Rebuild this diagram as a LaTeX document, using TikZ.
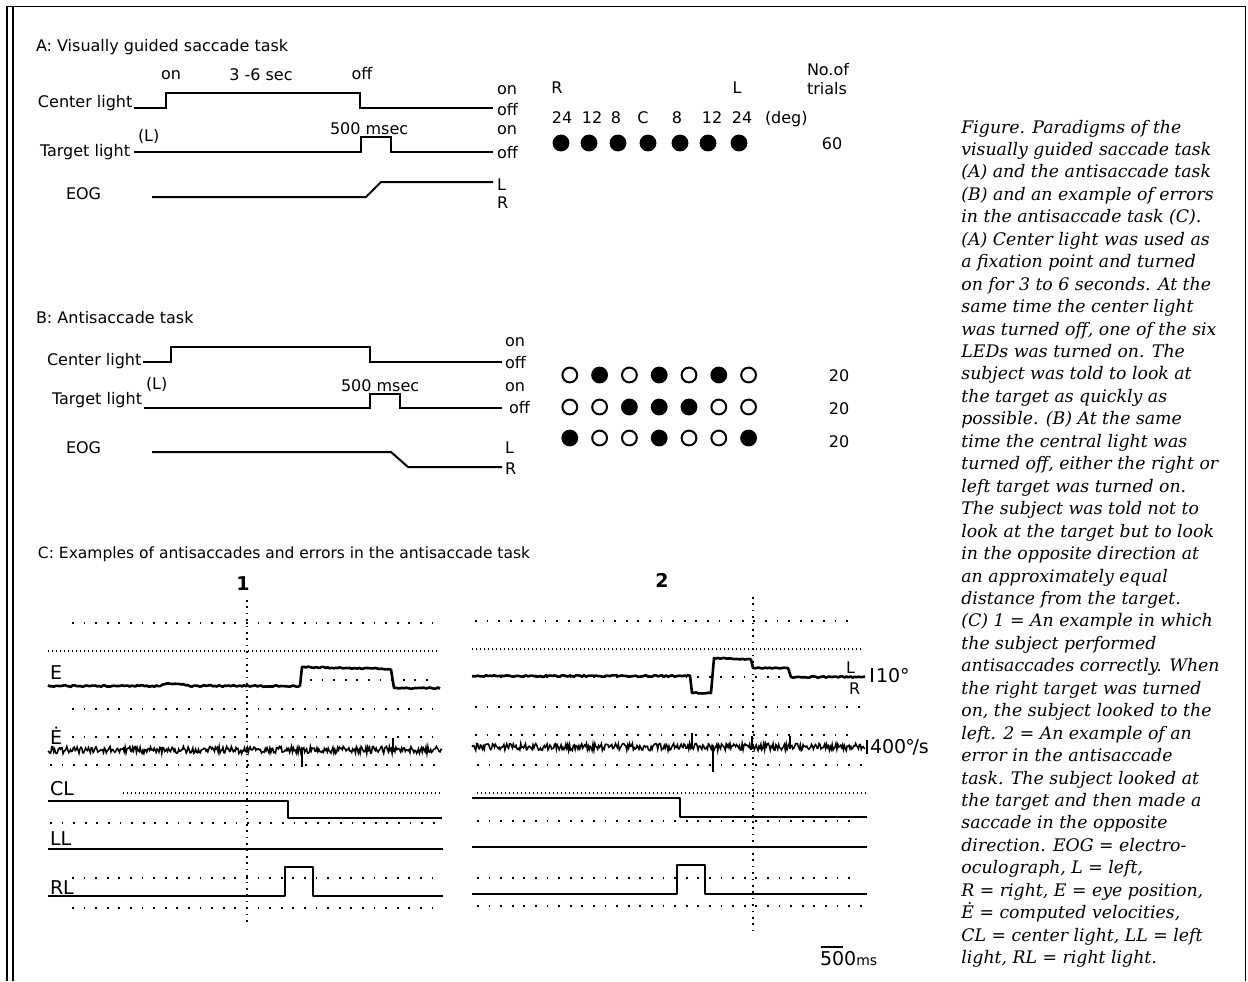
\documentclass[tikz,border=0pt]{standalone}
\usepackage{fontspec}
\newfontfamily\lblfont{DejaVu Sans}
\newfontfamily\capfont{DejaVu Serif}
\begin{document}
\begin{tikzpicture}[x=0.5pt,y=-0.5pt,
  lbl/.style={font=\lblfont\fontsize{8}{9.6}\selectfont, inner sep=0pt, outer sep=0pt},
  biglbl/.style={font=\lblfont\fontsize{9.5}{11}\selectfont, inner sep=0pt, outer sep=0pt},
  numlbl/.style={font=\lblfont\bfseries\fontsize{9.5}{11}\selectfont, inner sep=0pt, outer sep=0pt},
  smlbl/.style={font=\lblfont\fontsize{7}{8}\selectfont, inner sep=0pt, outer sep=0pt},
  captxt/.style={font=\capfont\itshape\fontsize{8.65}{10}\selectfont, inner sep=0pt, anchor=base west},
  sig/.style={line width=1pt, line join=miter},
  etr/.style={line width=1.3pt, line join=round},
  dtr/.style={line width=0.75pt, line join=miter},
  sparse/.style={line width=1pt, dash pattern=on 0.9pt off 4.9pt},
  dense/.style={line width=0.8pt, dash pattern=on 0.7pt off 1.3pt},
  vdot/.style={line width=0.9pt, dash pattern=on 0.8pt off 2.4pt},
  led/.style={circle, draw=black, line width=1pt, inner sep=0pt, minimum size=7.4pt},
  frame/.style={line width=0.6pt}
]
\fill[white] (0,0) rectangle (1248,981);
\useasboundingbox (0,0) rectangle (1248,981);
\pgfmathsetseed{4711}

% frame
\draw[frame] (6,6.5) -- (1246,6.5);
\draw[frame] (7,6.5) -- (7,981);
\draw[line width=1.1pt] (13,6.5) -- (13,981);
\draw[frame] (1245.5,6.5) -- (1245.5,981);

% ---------------- Panel A ----------------
\node[lbl,anchor=base west] (tA) at (36,51) {A: Visually guided saccade task};
\node[lbl,anchor=base] (aon) at (171,79) {on};
\node[lbl,anchor=base] (adur) at (261,80) {3 -6 sec};
\node[lbl,anchor=base] (aoff) at (362,79) {off};
\node[lbl,anchor=base west] (acl) at (38,107) {Center light};
\draw[sig] (134,108) -- (166,108) -- (166,93) -- (360,93) -- (360,108) -- (493,108);
\node[lbl,anchor=base west] (aclon) at (497,94) {on};
\node[lbl,anchor=base west] (acloff) at (497,115) {off};
\node[lbl,anchor=base west] (a500) at (330,134) {500 msec};
\node[lbl,anchor=base west] (atl) at (40,156) {Target light};
\node[lbl,anchor=base west] (aL) at (138,141) {(L)};
\draw[sig] (134,152) -- (361,152) -- (361,137) -- (391,137) -- (391,152) -- (493,152);
\node[lbl,anchor=base west] (atlon) at (497,134) {on};
\node[lbl,anchor=base west] (atloff) at (497,158) {off};
\node[lbl,anchor=base west] (aeog) at (66,199) {EOG};
\draw[sig] (152,197) -- (366,197) -- (381,182) -- (493,182);
\node[lbl,anchor=base west] (aeL) at (497,190) {L};
\node[lbl,anchor=base west] (aeR) at (497,208) {R};

% Panel A LEDs
\node[lbl,anchor=base] (aR) at (557,93) {R};
\node[lbl,anchor=base] (aLL) at (737,93) {L};
\node[lbl,anchor=base west] (ano) at (807,75) {No.of};
\node[lbl,anchor=base west] (atri) at (807,94) {trials};
\foreach \t/\xx [count=\i] in {24/562,12/592,8/616,C/643,8/677,12/712,24/742}
  \node[lbl,anchor=base] (deg\i) at (\xx,123) {\t};
\node[lbl,anchor=base west] (degu) at (765,123) {(deg)};
\foreach \xx [count=\i] in {561,589,618,648,680,708,739}
  \node[led,fill=black] (la\i) at (\xx,143) {};
\node[lbl,anchor=base] (n60) at (832,149) {60};

% ---------------- Panel B ----------------
\node[lbl,anchor=base west] (tB) at (36,323) {B: Antisaccade task};
\node[lbl,anchor=base west] (bcl) at (47,365) {Center light};
\draw[sig] (143,362) -- (171,362) -- (171,347) -- (370,347) -- (370,362) -- (502,362);
\node[lbl,anchor=base west] (bclon) at (505,346) {on};
\node[lbl,anchor=base west] (bcloff) at (505,368) {off};
\node[lbl,anchor=base west] (b500) at (341,391) {500 msec};
\node[lbl,anchor=base west] (btl) at (52,404) {Target light};
\node[lbl,anchor=base west] (bL) at (146,389) {(L)};
\draw[sig] (144,408) -- (370,408) -- (370,394) -- (400,394) -- (400,408) -- (502,408);
\node[lbl,anchor=base west] (btlon) at (505,391) {on};
\node[lbl,anchor=base west] (btloff) at (509,413) {off};
\node[lbl,anchor=base west] (beog) at (66,453) {EOG};
\draw[sig] (152,452) -- (391,452) -- (408,467) -- (502,467);
\node[lbl,anchor=base west] (beL) at (505,453) {L};
\node[lbl,anchor=base west] (beR) at (505,474) {R};

% Panel B LEDs
\foreach \fc [count=\i] in {white,black,white,black,white,black,white}
  \node[led,fill=\fc] (lb1\i) at ({540+29.8*\i},375) {};
\foreach \fc [count=\i] in {white,white,black,black,black,white,white}
  \node[led,fill=\fc] (lb2\i) at ({540+29.8*\i},407) {};
\foreach \fc [count=\i] in {black,white,white,black,white,white,black}
  \node[led,fill=\fc] (lb3\i) at ({540+29.8*\i},438) {};
\node[lbl,anchor=base] (n20a) at (839,381) {20};
\node[lbl,anchor=base] (n20b) at (839,414) {20};
\node[lbl,anchor=base] (n20c) at (839,447) {20};

% ---------------- Panel C ----------------
\node[lbl,anchor=base west,font=\lblfont\fontsize{7.75}{9}\selectfont] (tC) at (38,558) {C: Examples of antisaccades and errors in the antisaccade task};

% part 1 grid
\node[numlbl,anchor=base] (c1) at (243,590) {1};
\draw[vdot] (247,600) -- (247,925);
\draw[sparse] (72,623) -- (435,623);
\draw[dense] (48,651) -- (437,651);
\draw[sparse] (310,680) -- (435,680);
\draw[sparse] (72,709) -- (435,709);
\draw[sparse] (72,737) -- (435,737);
\draw[sparse] (50,765) -- (437,765);
\draw[dense] (123,793) -- (442,793);
\draw[sparse] (50,823) -- (437,823);
\draw[sparse] (72,878) -- (435,878);
\draw[sparse] (72,908) -- (435,908);

% part 1 traces
\node[biglbl,anchor=base west] (cE1) at (50,679) {E};
\draw[etr] plot[domain=48:160,samples=60] (\x,{686+0.8*rand})
  -- plot[domain=163:183,samples=11] (\x,{684+0.6*rand})
  -- plot[domain=186:300,samples=60] (\x,{686+0.8*rand})
  -- (302,667)
  -- plot[domain=304:391,samples=45] (\x,{667+2*(\x-304)/87+0.7*rand})
  -- (394,688)
  -- plot[domain=396:440,samples=22] (\x,{688+0.7*rand});
\node[biglbl,anchor=base west] (cEd1) at (50,744) {\.{E}};
\draw[dtr] plot[domain=48:442,samples=420] (\x,{750+3.6*rand});
\draw[line width=1pt] (302,748) -- (302,767);
\draw[line width=1pt] (393,752) -- (393,738);
\node[biglbl,anchor=base west] (cCL1) at (50,795) {CL};
\draw[etr] (48,801) -- (288,801) -- (288,818) -- (442,818);
\node[biglbl,anchor=base west] (cLL1) at (50,845) {LL};
\draw[etr] (48,849) -- (443,849);
\node[biglbl,anchor=base west] (cRL1) at (50,894) {RL};
\draw[etr] (48,896) -- (285,896) -- (285,867) -- (313,867) -- (313,896) -- (443,896);

% part 2 grid
\node[numlbl,anchor=base] (c2) at (662,587) {2};
\draw[vdot] (753,597) -- (753,930);
\draw[sparse] (475,621) -- (857,621);
\draw[dense] (472,649) -- (863,649);
\draw[sparse] (500,677) -- (860,677);
\draw[sparse] (475,707) -- (867,707);
\draw[sparse] (475,735) -- (857,735);
\draw[sparse] (477,765) -- (867,765);
\draw[dense] (477,793) -- (867,793);
\draw[sparse] (477,821) -- (855,821);
\draw[sparse] (477,878) -- (855,878);
\draw[sparse] (477,906) -- (867,906);

% part 2 traces
\draw[etr] plot[domain=472:690,samples=110] (\x,{676+0.8*rand})
  -- (692,693)
  -- plot[domain=694:711,samples=9] (\x,{693+0.6*rand})
  -- (714,658)
  -- plot[domain=716:751,samples=18] (\x,{658+1.5*(\x-716)/35+0.6*rand})
  -- (753,668)
  -- plot[domain=755:788,samples=17] (\x,{668+0.6*rand})
  -- (791,677)
  -- plot[domain=793:865,samples=36] (\x,{677+0.7*rand});
\node[lbl,anchor=base west] (cL2) at (846,673) {L};
\node[lbl,anchor=base west] (cR2) at (849,694) {R};
\draw[line width=0.9pt] (872,668) -- (872,682);
\node[biglbl,anchor=base west] (c10) at (876,682) {10°};
\draw[dtr] plot[domain=472:865,samples=420] (\x,{747+3.6*rand});
\draw[line width=1pt] (692,749) -- (692,733);
\draw[line width=1pt] (713,745) -- (713,772);
\draw[line width=1pt] (752,749) -- (752,736);
\draw[line width=1pt] (790,749) -- (790,736);
\draw[line width=0.9pt] (867,740) -- (867,754);
\node[biglbl,anchor=base west] (c400) at (870,753) {400\kern-0.4pt°\kern-1.2pt/s};
\draw[etr] (472,798) -- (680,798) -- (680,817) -- (867,817);
\draw[etr] (472,847) -- (867,847);
\draw[etr] (472,894) -- (677,894) -- (677,865) -- (705,865) -- (705,894) -- (867,894);

% scale bar
\draw[line width=1.1pt] (821,947) -- (843,947);
\node[biglbl,anchor=base west] (c500) at (820,965) {500};
\node[smlbl,anchor=base west] (cms) at (c500.base east) {ms};

% ---------------- Caption ----------------
\foreach \t [count=\i from 0] in {
 {Figure. Paradigms of the},
 {visually guided saccade task},
 {(A) and the antisaccade task},
 {(B) and an example of errors},
 {in the antisaccade task (C).},
 {(A) Center light was used as},
 {a fixation point and turned},
 {on for 3 to 6 seconds. At the},
 {same time the center light},
 {was turned off, one of the six},
 {LEDs was turned on. The},
 {subject was told to look at},
 {the target as quickly as},
 {possible. (B) At the same},
 {time the central light was},
 {turned off, either the right or},
 {left target was turned on.},
 {The subject was told not to},
 {look at the target but to look},
 {in the opposite direction at},
 {an approximately equal},
 {distance from the target.},
 {(C) 1 = An example in which},
 {the subject performed},
 {antisaccades correctly. When},
 {the right target was turned},
 {on, the subject looked to the},
 {left. 2 = An example of an},
 {error in the antisaccade},
 {task. The subject looked at},
 {the target and then made a},
 {saccade in the opposite},
 {direction. EOG = electro-},
 {oculograph, L = left,},
 {R = right, E = eye position,},
 {\.{E} = computed velocities,},
 {CL = center light, LL = left},
 {light, RL = right light.}}
  \node[captxt] (cap\i) at (961,{133+22.45*\i}) {\t};
\end{tikzpicture}
\end{document}
